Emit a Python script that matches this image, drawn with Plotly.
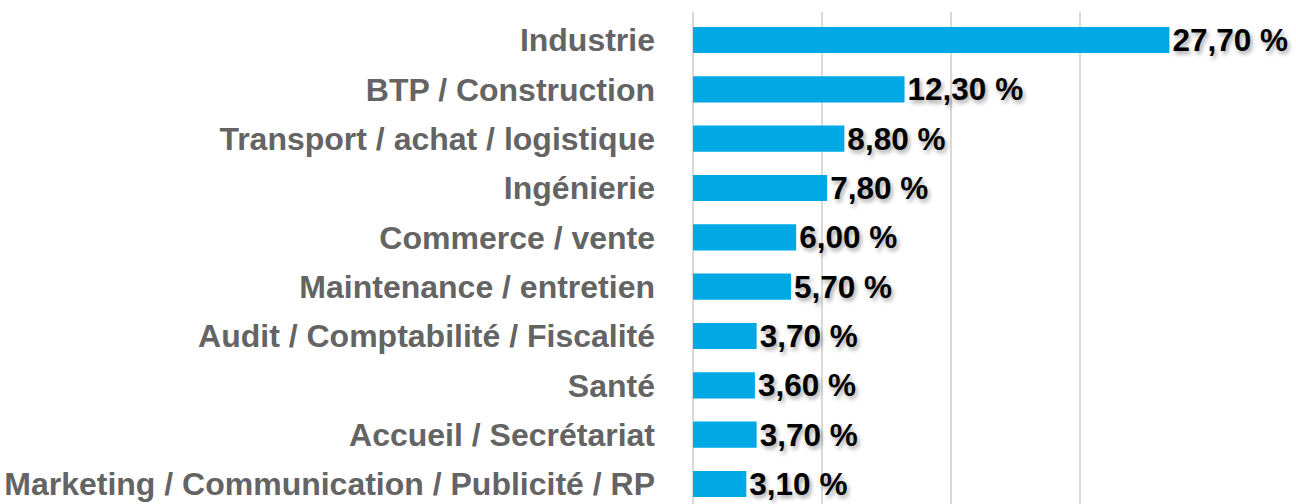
import plotly.graph_objects as go

# ---------------------------------------------------
# Data
# ---------------------------------------------------

SECTORS = [
    "Industrie",
    "BTP / Construction",
    "Transport / achat / logistique",
    "Ingénierie",
    "Commerce / vente",
    "Maintenance / entretien",
    "Audit / Comptabilité / Fiscalité",
    "Santé",
    "Accueil / Secrétariat",
    "Marketing / Communication / Publicité / RP",
]

SHARES = [27.7, 12.3, 8.8, 7.8, 6.0, 5.7, 3.7, 3.6, 3.7, 3.1]

LABELS = [f"{v:.2f}".replace(".", ",") + " %" for v in SHARES]

BAR_COLOR = "#00A9E6"
LABEL_FONT = "Liberation Sans, Arial, sans-serif"

# ---------------------------------------------------
# Figure
# ---------------------------------------------------

fig = go.Figure(
    go.Bar(
        x=SHARES,
        y=SECTORS,
        orientation="h",
        marker={"color": BAR_COLOR, "line": {"width": 0}},
        width=0.53,
        text=LABELS,
        textposition="outside",
        constraintext="none",
        cliponaxis=False,
        textfont={
            "family": LABEL_FONT,
            "size": 31.5,
            "color": "black",
            "weight": "bold",
            "shadow": "2px 3px 4px rgba(0,0,0,0.35)",
        },
        hoverinfo="skip",
    )
)

fig.update_layout(
    width=1296,
    height=504,
    paper_bgcolor="white",
    plot_bgcolor="white",
    margin={"l": 693, "r": 87, "t": 12, "b": 0},
    showlegend=False,
)

fig.update_xaxes(
    range=[0, 30],
    dtick=7.5,
    showticklabels=False,
    showgrid=True,
    gridcolor="#D9D9D9",
    gridwidth=2,
    zeroline=True,
    zerolinecolor="#D9D9D9",
    zerolinewidth=2,
    automargin=False,
    fixedrange=True,
)

fig.update_yaxes(
    type="category",
    range=[9.405, -0.568],
    showgrid=False,
    ticks="",
    ticklabelstandoff=37,
    automargin=False,
    tickfont={
        "family": LABEL_FONT,
        "size": 32,
        "color": "#646464",
        "weight": "bold",
    },
    fixedrange=True,
)

# drop the browser's default 8px body margin so the figure fills the window
fig.write_html(
    "out.html",
    config={"displayModeBar": False},
    post_script="document.body.style.margin = '0'; document.body.style.overflow = 'hidden';",
)
